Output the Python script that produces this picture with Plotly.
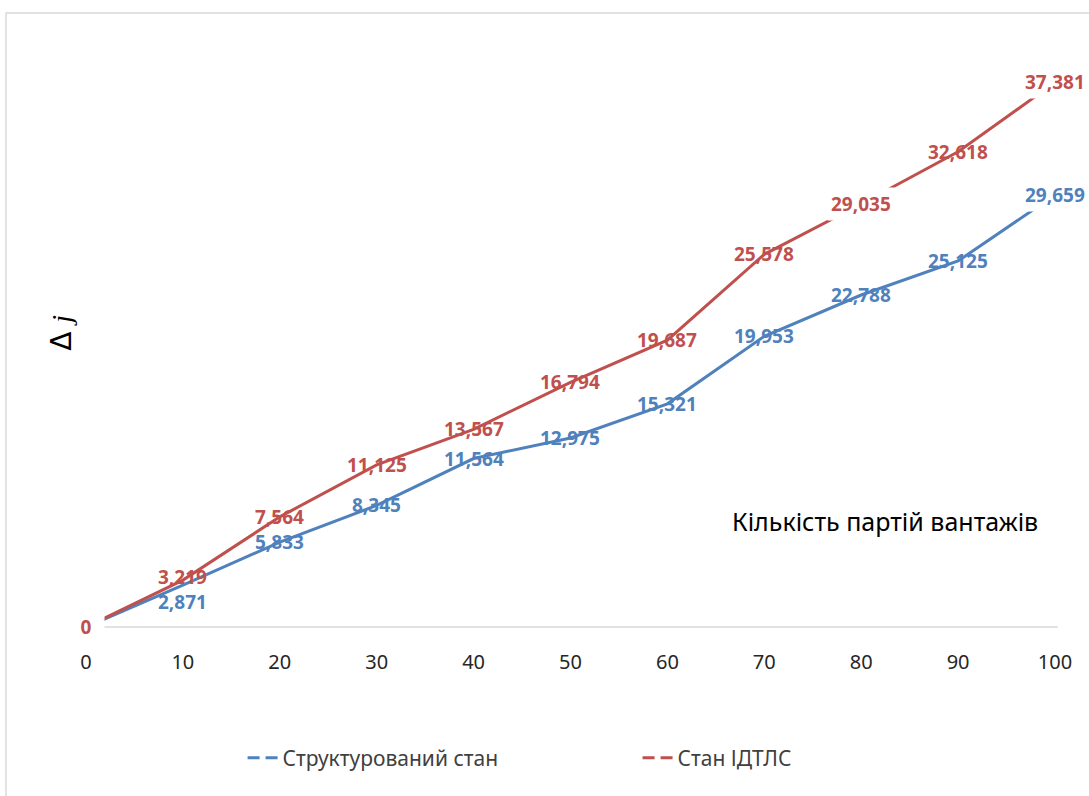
import plotly.graph_objects as go

# ---- data ----
x_vals = [0, 10, 20, 30, 40, 50, 60, 70, 80, 90, 100]
tick_labels = ["0", "10", "20", "30", "40", "50", "60", "70", "80", "90", "100"]
blue_vals = [0, 2.871, 5.833, 8.345, 11.564, 12.975, 15.321, 19.953, 22.788, 25.125, 29.659]
red_vals = [0, 3.219, 7.564, 11.125, 13.567, 16.794, 19.687, 25.578, 29.035, 32.618, 37.381]
blue_name = "Структурований стан"
red_name = "Стан ІДТЛС"
blue_bg_labels = [10]          # labels drawn on a white background
red_bg_labels = [0, 8, 10]
blue_label_shift = {1: -17}    # pixel nudges of individual labels
red_label_shift = {1: 3}
x_title = "Кількість партій вантажів"
y_title = "Δ <span style='font-family:Liberation Serif'><i>j</i></span>"

BLUE = "#4f81bd"
RED = "#c0504d"
FONT = "Noto Sans"

def fmt(v):
    if v == 0:
        return "0"
    return f"{v:.3f}".replace(".", ",")

fig = go.Figure()

for vals, col, name in [(blue_vals, BLUE, blue_name), (red_vals, RED, red_name)]:
    fig.add_trace(go.Scatter(x=x_vals, y=vals, mode="lines",
                             line=dict(color=col, width=3),
                             showlegend=False, hoverinfo="skip"))

# legend-only entries with dashed symbols
for col, name in [(BLUE, blue_name), (RED, red_name)]:
    fig.add_trace(go.Scatter(x=[None], y=[None], mode="lines", name=name,
                             line=dict(color=col, width=3, dash="12px,6px")))

annotations = []
for vals, col, bg, sh in [(blue_vals, BLUE, blue_bg_labels, blue_label_shift),
                          (red_vals, RED, red_bg_labels, red_label_shift)]:
    for i, (xv, yv) in enumerate(zip(x_vals, vals)):
        a = dict(x=xv, y=yv, xref="x", yref="y", text="<b>" + fmt(yv) + "</b>",
                 showarrow=False, xanchor="center", yanchor="middle",
                 yshift=sh.get(i, 0),
                 font=dict(family=FONT, size=19, color=col))
        if i in bg:
            a["bgcolor"] = "white"
            a["borderpad"] = 3
            if yv == 0:
                a["width"] = 30
        annotations.append(a)

annotations.append(dict(x=0.809, y=0.198, xref="paper", yref="paper", text=x_title,
                        showarrow=False, xanchor="center", yanchor="middle",
                        font=dict(family=FONT, size=25, color="#000000")))
annotations.append(dict(x=0.002, y=0.512, xref="paper", yref="paper", text=y_title,
                        showarrow=False, xanchor="center", yanchor="middle", textangle=-90,
                        font=dict(family="DejaVu Sans", size=28, color="#000000")))

shapes = [
    # horizontal axis line
    dict(type="line", xref="x", yref="y", x0=1.75, x1=100.3, y0=0, y1=0,
         line=dict(color="#d9d9d9", width=1.5), layer="below"),
    # chart border
    dict(type="rect", xref="paper", yref="paper", x0=-0.0529, x1=1.02, y0=-0.27, y1=1.045,
         line=dict(color="#d9d9d9", width=1.5), layer="below"),
]

fig.update_layout(
    width=1089, height=796,
    margin=dict(l=60, r=9, t=40, b=156),
    paper_bgcolor="white", plot_bgcolor="white",
    xaxis=dict(range=[-2.68, 102.58], tickvals=x_vals, ticktext=tick_labels,
               showgrid=False, zeroline=False, showline=False, ticks="",
               ticklabelstandoff=8,
               tickfont=dict(family=FONT, size=20, color="#262626")),
    yaxis=dict(range=[-0.89, 40.29], showgrid=False, zeroline=False, showline=False,
               showticklabels=False, ticks=""),
    legend=dict(orientation="h", x=0.179, xanchor="left", y=-0.197, yanchor="middle",
                font=dict(family=FONT, size=21, color="#404040"),
                entrywidth=350, bgcolor="rgba(0,0,0,0)"),
    annotations=annotations,
    shapes=shapes,
)

fig.write_html("out.html")
